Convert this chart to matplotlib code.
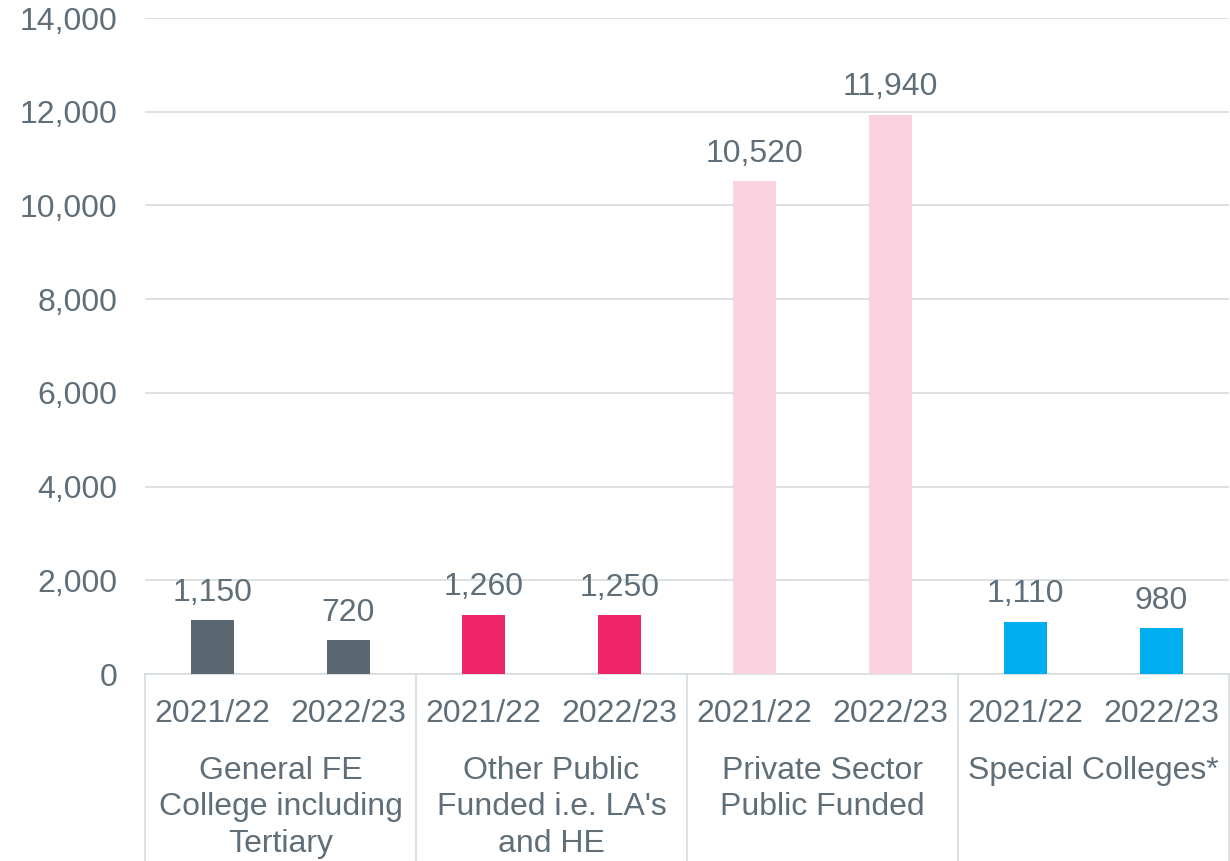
import matplotlib
matplotlib.use("Agg")
import matplotlib.pyplot as plt
import matplotlib.transforms as mtransforms

# data
categories = ["General FE\nCollege including\nTertiary",
              "Other Public\nFunded i.e. LA's\nand HE",
              "Private Sector\nPublic Funded",
              "Special Colleges*"]
years = ["2021/22", "2022/23"]
values = [1150, 720, 1260, 1250, 10520, 11940, 1110, 980]
colours = ["#5B6770", "#F0266B", "#FBD3E0", "#00AEEF"]

plt.rcParams['font.family'] = ['Liberation Sans', 'DejaVu Sans']
textCol = "#5F6E78"
lineCol = "#D9DEE2"
fs = 23

fig = plt.figure(figsize=(12.3, 8.61), dpi=100)
ax = fig.add_axes([145 / 1230, (861 - 674) / 861, 1084 / 1230, (674 - 18) / 861])

# bars, two per category
xpos = list(range(len(values)))
barCols = [colours[i // 2] for i in xpos]
ax.bar(xpos, values, width=0.32, color=barCols, zorder=3)

# value labels above each bar
for x, v in zip(xpos, values):
    ax.annotate(f"{v:,}", (x, v), xytext=(0, 9), textcoords="offset points",
                ha="center", va="bottom", fontsize=fs, color=textCol)

ax.set_xlim(-0.5, len(values) - 0.5)
ax.set_ylim(0, 14000)
ax.set_yticks(range(0, 14001, 2000))
ax.set_yticklabels([f"{t:,}" for t in range(0, 14001, 2000)])
ax.set_xticks(xpos)
ax.set_xticklabels(years * len(categories))
ax.tick_params(axis="both", length=0, labelsize=fs, labelcolor=textCol)
ax.tick_params(axis="x", pad=18)
ax.tick_params(axis="y", pad=20)

ax.grid(axis="y", color=lineCol, linewidth=1.3, zorder=0)
for s in ["top", "right", "left"]:
    ax.spines[s].set_visible(False)
ax.spines["bottom"].set_color(lineCol)
ax.spines["bottom"].set_linewidth(1.3)

# category separators and labels below the axis
trans = mtransforms.blended_transform_factory(ax.transData, ax.transAxes)
bottomAx = -(187 / 656)
for i in range(len(categories) + 1):
    ax.plot([2 * i - 0.5, 2 * i - 0.5], [0, bottomAx], transform=trans,
            color=lineCol, linewidth=1.3, clip_on=False)
for i, cat in enumerate(categories):
    ax.text(2 * i + 0.5, -(82 / 656), cat, transform=trans, ha="center", va="top",
            fontsize=fs, color=textCol, linespacing=1.28)

fig.savefig("out.png", dpi=100)
